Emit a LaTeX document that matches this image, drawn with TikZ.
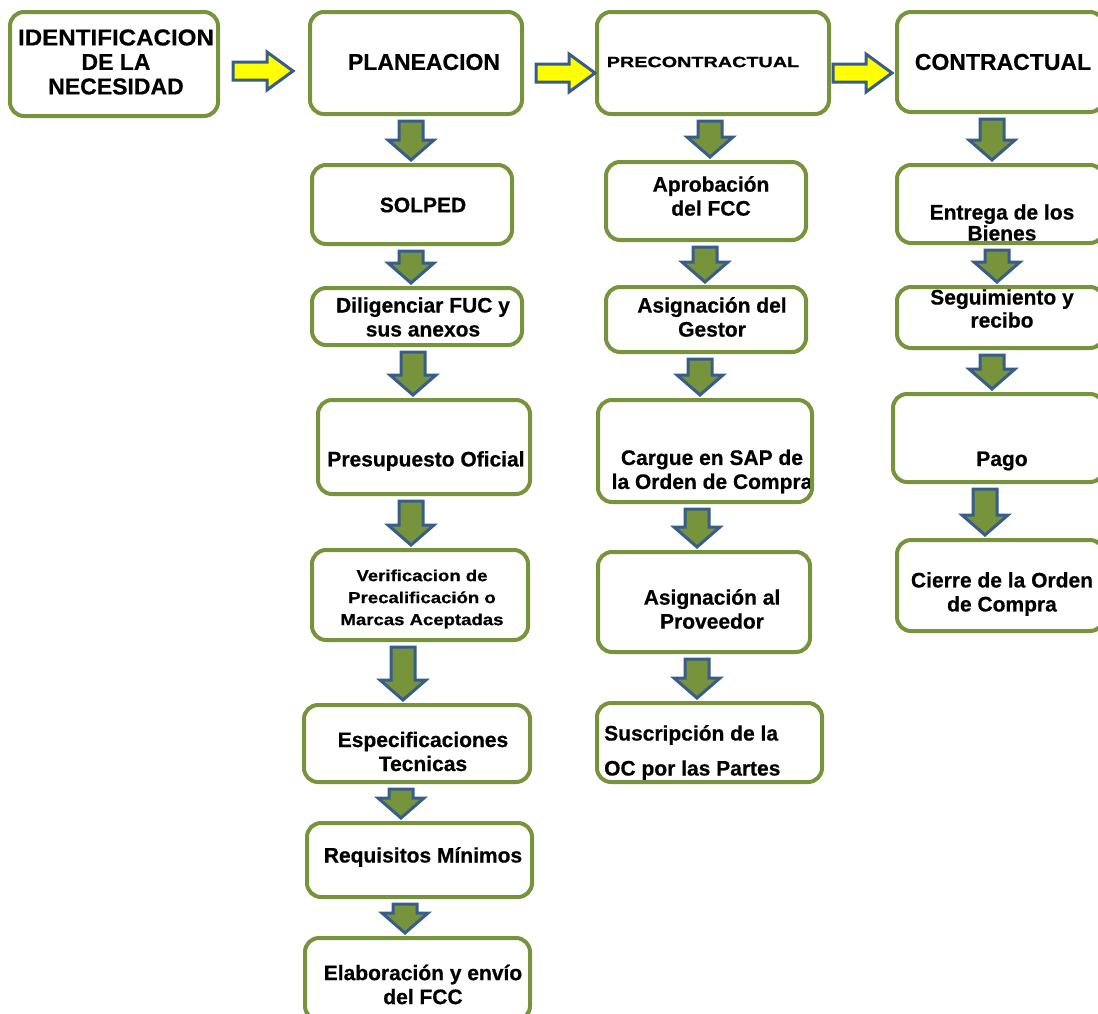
\documentclass[tikz,border=0pt]{standalone}
\usepackage{fontspec}
\setmainfont{Liberation Sans}[BoldFeatures={FakeBold=0.6}]
\usetikzlibrary{fit,calc}
\definecolor{boxgreen}{HTML}{77933C}
\definecolor{arrowblue}{HTML}{385D8A}
\definecolor{arrowyellow}{HTML}{FFFF00}
\tikzset{
  stage/.style={draw=boxgreen, line width=4pt, rounded corners=14pt, inner sep=0pt},
  lbl/.style={font=\fontsize{21}{24}\selectfont\bfseries, align=center, inner sep=0pt},
  head/.style={lbl, font=\fontsize{23}{24.5}\selectfont\bfseries},
  downarr/.style={fill=boxgreen, draw=arrowblue, line width=3pt, line join=miter},
  rightarr/.style={fill=arrowyellow, draw=arrowblue, line width=3pt, line join=miter},
}
% box from two corners
\newcommand\stagebox[5]{\node[stage, fit={(#2,#3) (#4,#5)}] (#1) {};}
% vertical block arrow at x=#1 between two boxes
\newcommand\blockdown[3]{%
  \path let \p1=(#2.south), \p2=(#3.north) in
    [downarr] (#1pt-12pt,\y1-5pt) -- (#1pt+12pt,\y1-5pt) -- (#1pt+12pt,\y2+23pt)
      -- (#1pt+23pt,\y2+23pt) -- (#1pt,\y2+3pt) -- (#1pt-23pt,\y2+23pt)
      -- (#1pt-12pt,\y2+23pt) -- cycle;}
% horizontal block arrow from x=#1 to x=#2 at height y=#3
\newcommand\blockright[3]{%
  \path[rightarr] (#1,#3-9) -- (#2-26,#3-9) -- (#2-26,#3-19) -- (#2,#3)
    -- (#2-26,#3+19) -- (#2-26,#3+9) -- (#1,#3+9) -- cycle;}
\begin{document}
\begin{tikzpicture}[x=1pt,y=-1pt]
\useasboundingbox (0,0) rectangle (1098,1013);
\clip (0,0) rectangle (1098,1013);

% ---- labels ----
\node[head] (tident) at (116,62) {\scalebox{1.05}[1]{IDENTIFICACION}\\DE LA\\NECESIDAD};
\node[head] (tplan) at (424,62) {PLANEACION};
\node[lbl, font=\fontsize{15}{18}\selectfont\bfseries] (tprec) at (703,62) {\scalebox{1.32}[1]{PRECONTRACTUAL}};
\node[head] (tcont) at (1003,62) {CONTRACTUAL};

\node[lbl] (tsolped) at (423,205) {SOLPED};
\node[lbl] (tdilig) at (423,317) {Diligenciar FUC y\\sus anexos};
\node[lbl] (tpresu) at (426,461) {Presupuesto Oficial};
\node[lbl, font=\fontsize{16}{22}\selectfont\bfseries] (tverif) at (422,599) {\scalebox{1.16}[1]{Verificacion de}\\\scalebox{1.16}[1]{Precalificación o}\\\scalebox{1.16}[1]{Marcas Aceptadas}};
\node[lbl] (tespec) at (423,751.5) {Especificaciones\\Tecnicas};
\node[lbl] (treq) at (423,857) {Requisitos Mínimos};
\node[lbl] (telab) at (423,984.5) {Elaboración y envío\\del FCC};

\node[lbl] (taprob) at (711,196) {Aprobación\\del FCC};
\node[lbl] (tgestor) at (712,317) {Asignación del\\Gestor};
\node[lbl] (tcargue) at (712,471.5) {Cargue en SAP de\\la Orden de Compra};
\node[lbl] (tprov) at (712,609) {Asignación al\\Proveedor};
\node[lbl, align=left, anchor=west, font=\fontsize{21}{35}\selectfont\bfseries] (tsusc) at (604,752.5) {Suscripción de la\\OC por las Partes};

\node[lbl, font=\fontsize{21}{21}\selectfont\bfseries] (tentrega) at (1002,222.5) {Entrega de los\\Bienes};
\node[lbl, font=\fontsize{21}{23}\selectfont\bfseries] (tseg) at (1002,308.5) {Seguimiento y\\recibo};
\node[lbl] (tpago) at (1002,461) {Pago};
\node[lbl] (tcierre) at (1002,594) {Cierre de la Orden\\de Compra};

% ---- stage boxes ----
\stagebox{ident}{10}{12}{218}{116}
\stagebox{plan}{310}{12}{522}{114}
\stagebox{prec}{597}{12}{829}{114}
\stagebox{cont}{897}{12}{1104}{112}

\stagebox{solped}{312}{165}{512}{244}
\stagebox{dilig}{312}{288}{522}{345}
\stagebox{presu}{318}{400}{530}{494}
\stagebox{verif}{312}{550}{528}{640}
\stagebox{espec}{304}{705}{530}{782}
\stagebox{req}{307}{823}{532}{897}
\stagebox{elab}{305}{938}{530}{1020}

\stagebox{aprob}{606}{162}{806}{240}
\stagebox{gestor}{606}{287}{806}{352}
\stagebox{cargue}{598}{400}{812}{502}
\stagebox{prov}{598}{552}{810}{652}
\stagebox{susc}{597}{703}{822}{782}

\stagebox{entrega}{897}{165}{1104}{243}
\stagebox{seg}{897}{287}{1104}{348}
\stagebox{pago}{893}{394}{1104}{482}
\stagebox{cierre}{897}{540}{1104}{631}

% ---- horizontal block arrows ----
\blockright{233}{293}{71}
\blockright{536}{595}{73}
\blockright{833}{892}{73}

% ---- vertical block arrows ----
\blockdown{411}{plan}{solped}
\blockdown{411}{solped}{dilig}
\blockdown{413}{dilig}{presu}
\blockdown{411}{presu}{verif}
\blockdown{403}{verif}{espec}
\blockdown{401}{espec}{req}
\blockdown{405}{req}{elab}

\blockdown{710}{prec}{aprob}
\blockdown{705}{aprob}{gestor}
\blockdown{700}{gestor}{cargue}
\blockdown{697}{cargue}{prov}
\blockdown{697}{prov}{susc}

\blockdown{992}{cont}{entrega}
\blockdown{997}{entrega}{seg}
\blockdown{992}{seg}{pago}
\blockdown{985}{pago}{cierre}
\end{tikzpicture}
\end{document}
